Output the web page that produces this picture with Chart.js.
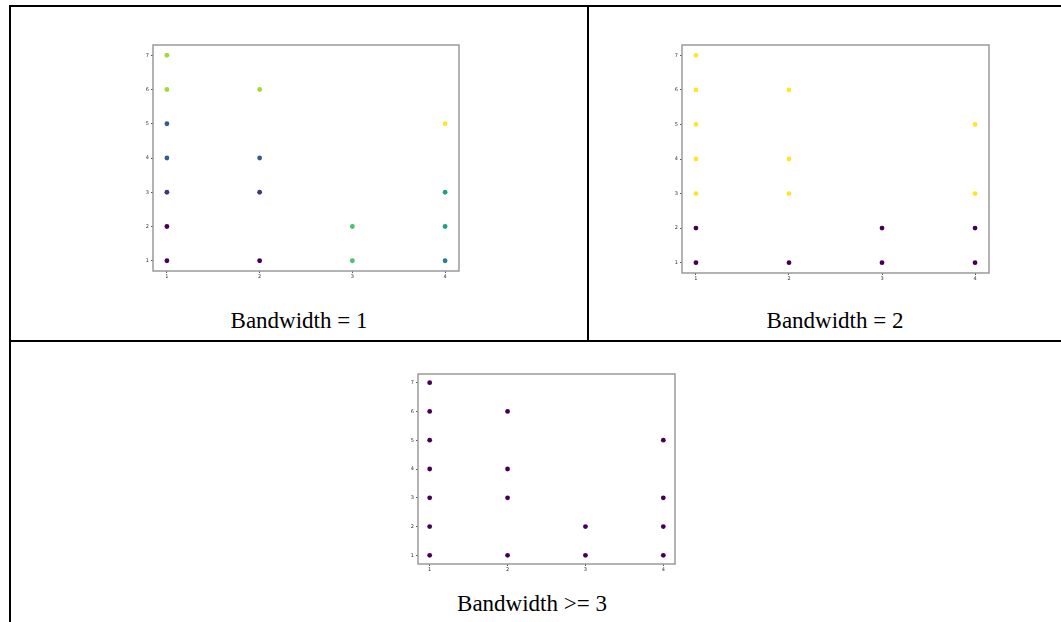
<!DOCTYPE html>
<html>
<head>
<meta charset="utf-8">
<script src="https://cdn.jsdelivr.net/npm/chart.js@4.4.0/dist/chart.umd.min.js"></script>
<style>
  html, body { margin: 0; padding: 0; background: #fff; }
  body { width: 1061px; height: 622px; position: relative; overflow: hidden; }
  .line { position: absolute; background: #000; }
  .plot { position: absolute; }
  .caption {
    position: absolute;
    font-family: "Liberation Serif", "Times New Roman", serif;
    font-size: 23px;
    color: #000;
    white-space: nowrap;
    transform: translate(-50%, -50%);
  }
</style>
</head>
<body>
<div class="line" style="left:9px; top:5px; width:1052px; height:2px;"></div>
<div class="line" style="left:9px; top:5px; width:2px; height:617px;"></div>
<div class="line" style="left:587px; top:5px; width:2px; height:336px;"></div>
<div class="line" style="left:9px; top:340px; width:1052px; height:2px;"></div>

<canvas id="bw1" class="plot"></canvas>
<canvas id="bw2" class="plot"></canvas>
<canvas id="bw3" class="plot"></canvas>

<div class="caption" style="left:299px; top:321px;">Bandwidth = 1</div>
<div class="caption" style="left:835px; top:321px;">Bandwidth = 2</div>
<div class="caption" style="left:532px; top:604px;">Bandwidth &gt;= 3</div>

<script>
// Data points (same for every panel)
const xValues = [1, 1, 1, 1, 1, 1, 1, 2, 2, 2, 2, 3, 3, 4, 4, 4, 4];
const yValues = [1, 2, 3, 4, 5, 6, 7, 1, 3, 4, 6, 1, 2, 1, 2, 3, 5];

// Cluster labels found for each bandwidth
const labelsBw1 = [0, 0, 1, 2, 2, 6, 6, 0, 1, 2, 6, 5, 5, 3, 4, 4, 7];
const labelsBw2 = [0, 0, 1, 1, 1, 1, 1, 0, 1, 1, 1, 0, 0, 0, 0, 1, 1];
const labelsBw3 = [0, 0, 0, 0, 0, 0, 0, 0, 0, 0, 0, 0, 0, 0, 0, 0, 0];

const xTicks = [1, 2, 3, 4];
const yTicks = [1, 2, 3, 4, 5, 6, 7];

// viridis colormap stops
const viridis = ['#440154', '#46327e', '#365c8d', '#277f8e', '#1fa187', '#4ac16d', '#a0da39', '#fde725'];

function hexToRgb(h) {
    return [parseInt(h.slice(1, 3), 16), parseInt(h.slice(3, 5), 16), parseInt(h.slice(5, 7), 16)];
}

function viridisColor(t) {
    const pos = t * (viridis.length - 1);
    const i = Math.min(Math.floor(pos), viridis.length - 2);
    const f = pos - i;
    const a = hexToRgb(viridis[i]);
    const b = hexToRgb(viridis[i + 1]);
    const c = a.map((v, k) => Math.round(v + (b[k] - v) * f));
    return `rgb(${c[0]},${c[1]},${c[2]})`;
}

function labelColors(labels) {
    const max = Math.max(...labels);
    return labels.map(l => viridisColor(max === 0 ? 0 : l / max));
}

// Draw the full box around the plot area
const framePlugin = {
    id: 'frame',
    afterDraw(chart) {
        const a = chart.chartArea;
        const ctx = chart.ctx;
        ctx.save();
        ctx.strokeStyle = '#9a9a9a';
        ctx.lineWidth = 1.5;
        ctx.strokeRect(a.left, a.top, a.right - a.left, a.bottom - a.top);
        ctx.restore();
    }
};

function makePlot(id, labels, frame) {
    const yAxisW = 20, xAxisH = 14, padTop = 4, padRight = 4;
    const canvas = document.getElementById(id);
    const w = frame.right - frame.left, h = frame.bottom - frame.top;
    canvas.width = w + yAxisW + padRight;
    canvas.height = h + padTop + xAxisH;
    canvas.style.left = (frame.left - yAxisW) + 'px';
    canvas.style.top = (frame.top - padTop) + 'px';

    const points = xValues.map((x, i) => ({ x: x, y: yValues[i] }));
    const tickFont = { family: 'DejaVu Sans', size: 5 };

    new Chart(canvas.getContext('2d'), {
        type: 'scatter',
        data: {
            datasets: [{
                data: points,
                backgroundColor: labelColors(labels),
                borderWidth: 0,
                pointRadius: 2.4
            }]
        },
        options: {
            responsive: false,
            animation: false,
            events: [],
            layout: { autoPadding: false, padding: { top: padTop, right: padRight, left: 0, bottom: 0 } },
            plugins: { legend: { display: false }, tooltip: { enabled: false } },
            scales: {
                x: {
                    type: 'linear',
                    min: 0.85,
                    max: 4.15,
                    afterBuildTicks: s => { s.ticks = xTicks.map(v => ({ value: v })); },
                    afterFit: s => { s.height = xAxisH; },
                    border: { display: false },
                    grid: { drawOnChartArea: false, drawTicks: true, tickLength: 2, color: '#555' },
                    ticks: { font: tickFont, color: '#333', padding: 1, maxRotation: 0 }
                },
                y: {
                    type: 'linear',
                    min: 0.7,
                    max: 7.3,
                    afterBuildTicks: s => { s.ticks = yTicks.map(v => ({ value: v })); },
                    afterFit: s => { s.width = yAxisW; },
                    border: { display: false },
                    grid: { drawOnChartArea: false, drawTicks: true, tickLength: 2, color: '#555' },
                    ticks: { font: tickFont, color: '#333', padding: 2 }
                }
            }
        },
        plugins: [framePlugin]
    });
}

makePlot('bw1', labelsBw1, { left: 153, top: 44, right: 459, bottom: 271 });
makePlot('bw2', labelsBw2, { left: 682, top: 44, right: 989, bottom: 273 });
makePlot('bw3', labelsBw3, { left: 418, top: 373, right: 675, bottom: 564 });
</script>
</body>
</html>
